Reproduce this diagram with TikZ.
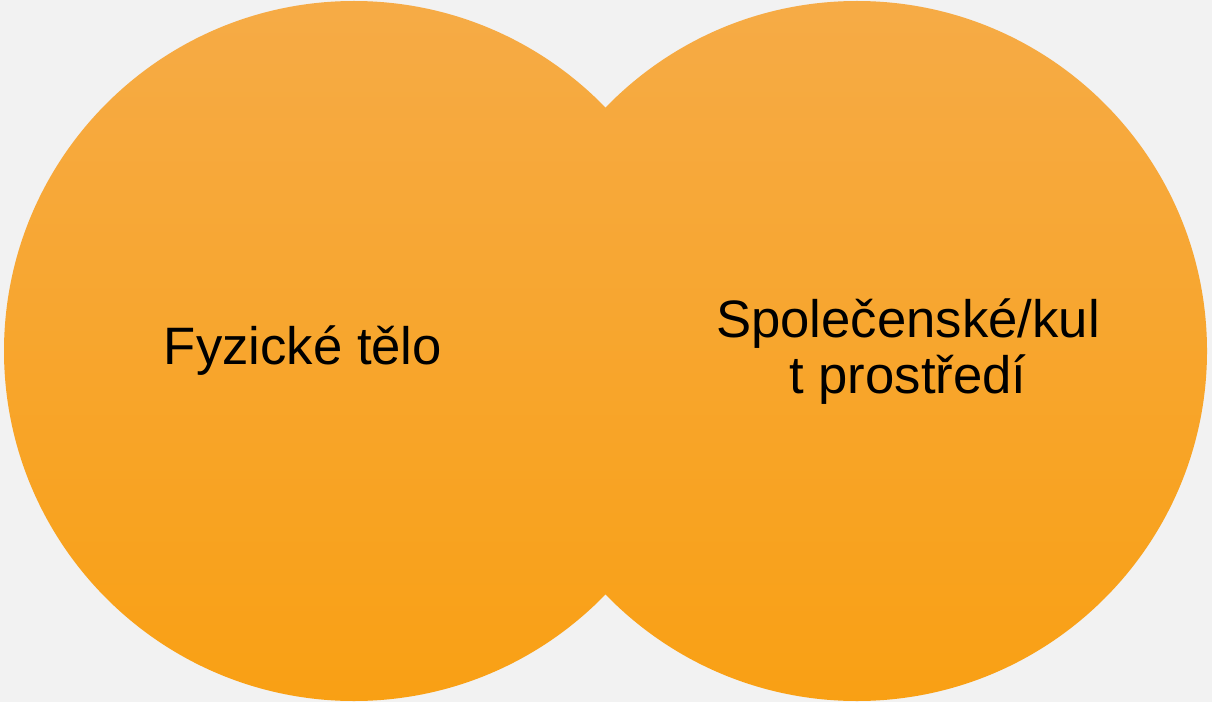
\documentclass[tikz,border=0pt]{standalone}
\usepackage{fontspec}
\setmainfont{Liberation Sans}
\usetikzlibrary{positioning}
\definecolor{bggray}{RGB}{242,242,242}
\definecolor{orangetop}{RGB}{246,171,70}
\definecolor{orangebot}{RGB}{249,160,20}
\tikzstyle{blob} = [circle, minimum size=525pt, inner sep=0pt,
    top color=orangetop, bottom color=orangebot, draw=none]
\tikzstyle{lbl} = [text=black, font=\fontsize{39.5}{42}\selectfont,
    align=center, inner sep=0pt]

\begin{document}
\begin{tikzpicture}[x=0.75pt,y=-0.75pt]

  \fill[bggray] (0,0) rectangle (1212,702);
  \useasboundingbox (0,0) rectangle (1212,702);

  \node[blob] (body) at (354,351) {};
  \node[blob] (env)  at (857,351) {};

  \node[lbl] (bodytxt) at (303,351) {Fyzické tělo};
  \node[lbl] (envtxt)  at (908,352) {Společenské/kul\\t prostředí};
\end{tikzpicture}
\end{document}
